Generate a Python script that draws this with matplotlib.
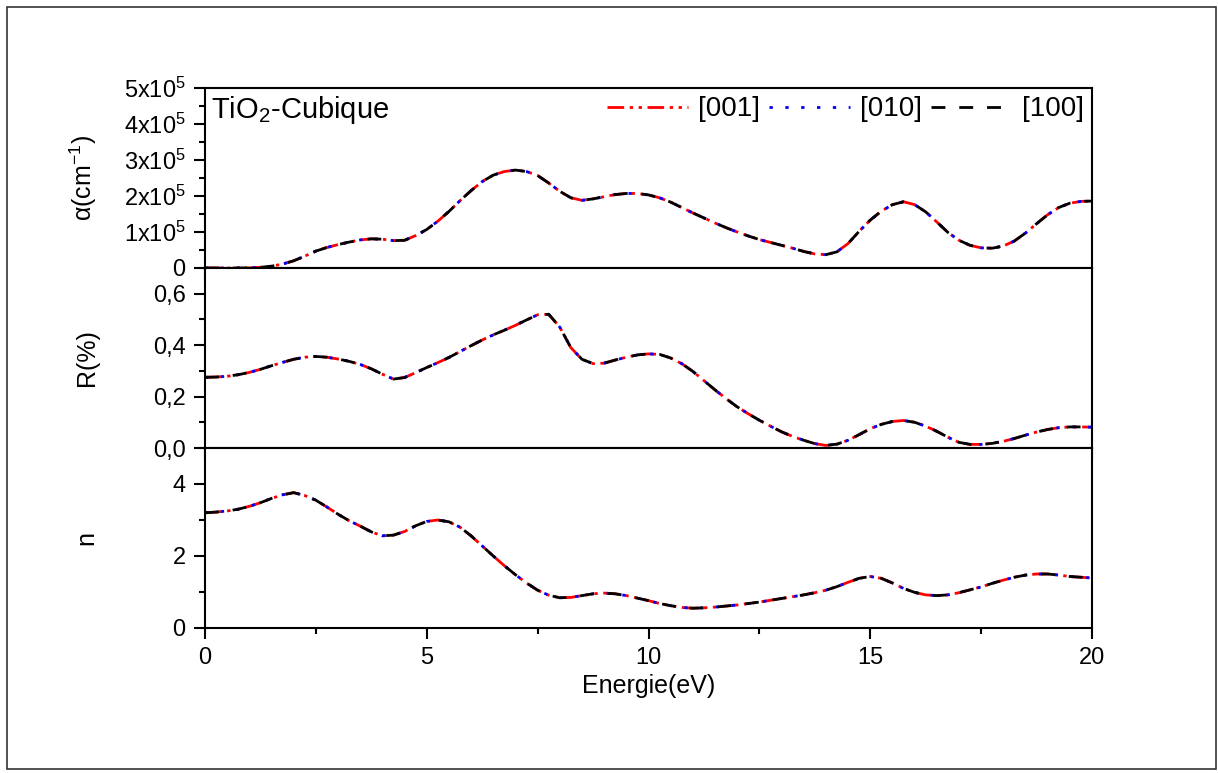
import numpy as np
import matplotlib
matplotlib.use("Agg")
import matplotlib.pyplot as plt
from matplotlib.patches import Rectangle
from matplotlib.ticker import MultipleLocator, FixedLocator, FixedFormatter

plt.rcParams['font.family'] = ['Liberation Sans', 'DejaVu Sans']
plt.rcParams['mathtext.fontset'] = 'custom'
plt.rcParams['mathtext.rm'] = 'Liberation Sans'
plt.rcParams['mathtext.it'] = 'Liberation Sans:italic'

# Photon energy grid (eV)
energy = [0.0, 0.25, 0.5, 0.75, 1.0, 1.25, 1.5, 1.75, 2.0, 2.25, 2.5, 2.75,
          3.0, 3.25, 3.5, 3.75, 4.0, 4.25, 4.5, 4.75, 5.0, 5.25, 5.5, 5.75,
          6.0, 6.25, 6.5, 6.75, 7.0, 7.25, 7.5, 7.75, 8.0, 8.25, 8.5, 8.75,
          9.0, 9.25, 9.5, 9.75, 10.0, 10.25, 10.5, 10.75, 11.0, 11.25, 11.5, 11.75,
          12.0, 12.25, 12.5, 12.75, 13.0, 13.25, 13.5, 13.75, 14.0, 14.25, 14.5, 14.75,
          15.0, 15.25, 15.5, 15.75, 16.0, 16.25, 16.5, 16.75, 17.0, 17.25, 17.5, 17.75,
          18.0, 18.25, 18.5, 18.75, 19.0, 19.25, 19.5, 19.75, 20.0]

# Absorption coefficient (units of 1e5 cm^-1)
alpha_e5 = [0.0, 0.0, 0.0, 0.0, 0.005, 0.02, 0.05, 0.11, 0.2, 0.33, 0.47, 0.57,
            0.65, 0.72, 0.78, 0.81, 0.80, 0.76, 0.77, 0.90, 1.07, 1.30, 1.57, 1.87,
            2.15, 2.40, 2.58, 2.68, 2.72, 2.68, 2.57, 2.36, 2.13, 1.95, 1.88, 1.92,
            1.98, 2.04, 2.07, 2.07, 2.03, 1.95, 1.83, 1.68, 1.53, 1.39, 1.25, 1.12,
            1.0, 0.89, 0.79, 0.71, 0.63, 0.55, 0.46, 0.39, 0.37, 0.45, 0.68, 1.02,
            1.33, 1.58, 1.76, 1.84, 1.76, 1.56, 1.28, 0.99, 0.77, 0.63, 0.56, 0.55,
            0.61, 0.75, 0.97, 1.23, 1.48, 1.68, 1.80, 1.85, 1.86]

# Reflectivity
refl = [0.275, 0.276, 0.279, 0.285, 0.294, 0.306, 0.32, 0.333, 0.345, 0.353, 0.356, 0.353,
        0.346, 0.337, 0.325, 0.308, 0.287, 0.268, 0.274, 0.293, 0.313, 0.332, 0.352, 0.375,
        0.398, 0.42, 0.44, 0.458, 0.477, 0.498, 0.518, 0.52, 0.47, 0.39, 0.345, 0.328,
        0.33, 0.342, 0.353, 0.362, 0.366, 0.364, 0.35, 0.328, 0.298, 0.262, 0.226, 0.192,
        0.16, 0.133, 0.108, 0.085, 0.063, 0.045, 0.03, 0.017, 0.01, 0.015, 0.03, 0.052,
        0.075, 0.092, 0.103, 0.107, 0.1, 0.085, 0.065, 0.042, 0.022, 0.014, 0.014, 0.018,
        0.026, 0.037, 0.05, 0.062, 0.072, 0.079, 0.082, 0.082, 0.081]

# Refractive index
n_index = [3.2, 3.22, 3.25, 3.3, 3.38, 3.48, 3.6, 3.7, 3.76, 3.68, 3.55, 3.36,
           3.16, 2.98, 2.83, 2.67, 2.56, 2.58, 2.68, 2.84, 2.96, 3.0, 2.95, 2.8,
           2.56, 2.28, 2.0, 1.73, 1.48, 1.25, 1.05, 0.91, 0.84, 0.85, 0.9, 0.95,
           0.97, 0.95, 0.9, 0.83, 0.76, 0.68, 0.62, 0.57, 0.55, 0.56, 0.58, 0.61,
           0.64, 0.68, 0.72, 0.77, 0.82, 0.87, 0.92, 0.98, 1.05, 1.15, 1.27, 1.38,
           1.43, 1.38, 1.25, 1.1, 0.99, 0.92, 0.9, 0.92, 0.98, 1.06, 1.14, 1.24,
           1.33, 1.41, 1.47, 1.5, 1.5, 1.47, 1.43, 1.41, 1.39]

directions = ['[001]', '[010]', '[100]']
dir_colors = ['#ff0000', '#0000ff', '#000000']
dir_styles = [(0, (6, 2, 1.2, 2, 1.2, 2)), (0, (1.2, 4.5)), (0, (5, 5))]

E = np.array(energy)
alpha = np.array(alpha_e5) * 1e5
R = np.array(refl)
n = np.array(n_index)

W, H = 1218, 773
fig = plt.figure(figsize=(W / 100, H / 100), dpi=100)

# Outer frame around the whole figure
fig.patches.append(Rectangle((7 / W, 4 / H), 1209 / W, 762 / H, transform=fig.transFigure,
                             fill=False, edgecolor='#333333', linewidth=1.2))

left, right = 205 / W, 1092 / W
ph = 180 / H
bottoms = [(H - 268) / H, (H - 448) / H, (H - 628) / H]
axes = [fig.add_axes([left, b, right - left, ph]) for b in bottoms]

series = [alpha, R, n]
for ax, y in zip(axes, series):
    for name, c, ls in zip(directions, dir_colors, dir_styles):
        ax.plot(E, y, color=c, linestyle=ls, linewidth=2.0, label=name)
    ax.set_xlim(0, 20)
    ax.xaxis.set_major_locator(MultipleLocator(5))
    ax.xaxis.set_minor_locator(MultipleLocator(2.5))
    for s in ax.spines.values():
        s.set_linewidth(1.5)
    ax.tick_params(which='major', direction='out', length=8, width=1.5, labelsize=17)
    ax.tick_params(which='minor', direction='out', length=4.3, width=1.5)
    ax.tick_params(axis='y', which='major', pad=6)
    ax.tick_params(axis='x', which='major', pad=6)
    ax.tick_params(axis='x', top=False)
    ax.tick_params(axis='y', right=False)

# Top: absorption
ax0 = axes[0]
ax0.set_ylim(0, 5e5)
ax0.yaxis.set_major_locator(FixedLocator([0, 1e5, 2e5, 3e5, 4e5, 5e5]))
ax0.yaxis.set_major_formatter(FixedFormatter(['0'] + [f'{k}x10$^{{5}}$' for k in range(1, 6)]))
ax0.yaxis.set_minor_locator(MultipleLocator(0.5e5))
ax0.set_xticklabels([])
ax0.set_ylabel('α(cm$^{-1}$)', fontsize=18)
ax0.text(0.007, 0.965, 'TiO$_{2}$-Cubique', transform=ax0.transAxes, fontsize=21,
         va='top', ha='left')
leg = ax0.legend(loc='upper right', ncol=3, frameon=False, fontsize=20,
                 handlelength=2.9, handletextpad=0.35, columnspacing=0.35,
                 borderaxespad=0.1, borderpad=0.2)

# Middle: reflectivity
ax1 = axes[1]
ax1.set_ylim(0, 0.7)
ax1.yaxis.set_major_locator(FixedLocator([0, 0.2, 0.4, 0.6]))
ax1.yaxis.set_major_formatter(FixedFormatter(['0,0', '0,2', '0,4', '0,6']))
ax1.yaxis.set_minor_locator(MultipleLocator(0.1))
ax1.set_xticklabels([])
ax1.set_ylabel('R(%)', fontsize=18)

# Bottom: refractive index
ax2 = axes[2]
ax2.set_ylim(0, 5)
ax2.yaxis.set_major_locator(FixedLocator([0, 2, 4]))
ax2.yaxis.set_minor_locator(MultipleLocator(1))
ax2.set_ylabel('n', fontsize=18)
ax2.set_xlabel('Energie(eV)', fontsize=18, labelpad=3)

for ax in axes:
    ax.yaxis.set_label_coords(-0.12, 0.5)

fig.savefig('out.png', dpi=100)
